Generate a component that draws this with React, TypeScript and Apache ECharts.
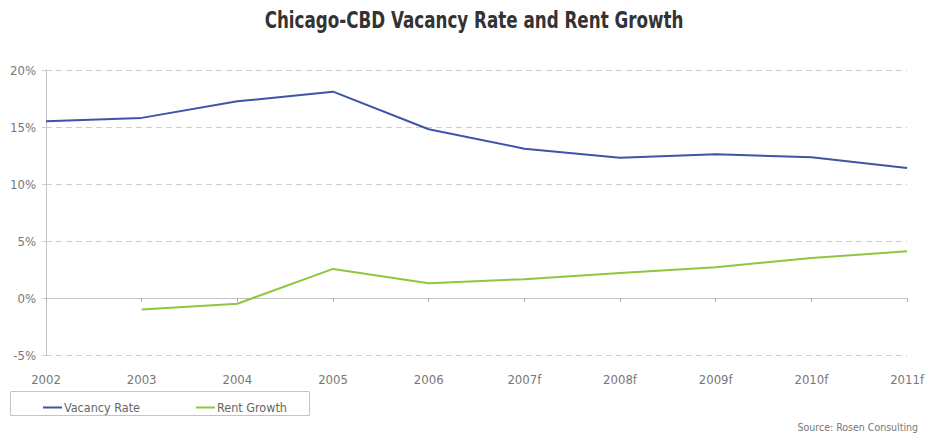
import React, { useEffect, useRef } from "react";
import * as echarts from "echarts";

const categories = ["2002", "2003", "2004", "2005", "2006", "2007f", "2008f", "2009f", "2010f", "2011f"];
const vacancyRate = [15.5, 15.8, 17.25, 18.1, 14.8, 13.1, 12.3, 12.6, 12.35, 11.4];
const rentGrowth = [null, -1.0, -0.5, 2.55, 1.3, 1.65, 2.2, 2.7, 3.5, 4.1];
const yTicks = { min: -5, max: 20, interval: 5 };

const FONT = "'DejaVu Sans Condensed', 'Liberation Sans', sans-serif";

export default function App() {
  const ref = useRef<HTMLDivElement>(null);
  useEffect(() => {
    if (!ref.current) return;
    const chart = echarts.init(ref.current, null, { renderer: "svg" });
    chart.setOption({
      animation: false,
      backgroundColor: "#fff",
      grid: { left: 46, right: 18, top: 70, bottom: 80, containLabel: false },
      legend: [
        {
          data: ["Vacancy Rate"],
          left: 38,
          top: 396,
          icon: "rect",
          itemWidth: 19,
          itemHeight: 2,
          textStyle: { fontFamily: FONT, fontSize: 12.5, color: "#666", padding: [0, 0, 0, -3] },
        },
        {
          data: ["Rent Growth"],
          left: 191,
          top: 396,
          icon: "rect",
          itemWidth: 19,
          itemHeight: 2,
          textStyle: { fontFamily: FONT, fontSize: 12.5, color: "#666", padding: [0, 0, 0, -3] },
        },
      ],
      graphic: [
        {
          type: "text",
          x: 474,
          y: 20,
          scaleX: 0.81,
          style: {
            text: "Chicago-CBD Vacancy Rate and Rent Growth",
            fontFamily: FONT,
            fontWeight: "bold",
            fontSize: 23,
            fill: "#333",
            textAlign: "center",
            textVerticalAlign: "middle",
          },
        },
        {
          type: "rect",
          shape: { x: 10.5, y: 391.5, width: 299, height: 24 },
          style: { fill: "none", stroke: "#c4c4c4", lineWidth: 1 },
        },
        {
          type: "text",
          right: 9,
          top: 421,
          style: { text: "Source: Rosen Consulting", fontFamily: FONT, fontSize: 10.5, fill: "#777" },
        },
      ],
      xAxis: [
        {
          type: "category",
          data: categories,
          boundaryGap: false,
          position: "bottom",
          axisLine: { show: false, onZero: false },
          axisTick: { show: false },
          axisLabel: { fontFamily: FONT, fontSize: 13, color: "#777", margin: 18 },
        },
        {
          type: "category",
          data: categories,
          boundaryGap: false,
          position: "bottom",
          axisLine: { show: true, onZero: true, lineStyle: { color: "#c4c4c4", width: 1 } },
          axisTick: { show: true, length: 4, alignWithLabel: true, lineStyle: { color: "#b0b0b0" } },
          axisLabel: { show: false },
        },
      ],
      yAxis: {
        type: "value",
        min: yTicks.min,
        max: yTicks.max,
        interval: yTicks.interval,
        axisLine: { show: true, lineStyle: { color: "#c4c4c4", width: 1 } },
        axisTick: { show: true, length: 4, lineStyle: { color: "#ccc" } },
        axisLabel: { formatter: "{value}%", fontFamily: FONT, fontSize: 13, color: "#777", margin: 10 },
        splitLine: { show: true, lineStyle: { color: "#cfcfcf", type: [6, 4], width: 1 } },
      },
      series: [
        {
          name: "Vacancy Rate",
          type: "line",
          data: vacancyRate,
          symbol: "none",
          lineStyle: { color: "#3f54a6", width: 2 },
          itemStyle: { color: "#3f54a6" },
        },
        {
          name: "Rent Growth",
          type: "line",
          data: rentGrowth,
          symbol: "none",
          lineStyle: { color: "#8dc63f", width: 2 },
          itemStyle: { color: "#8dc63f" },
        },
      ],
    });
    return () => chart.dispose();
  }, []);
  return <div ref={ref} style={{ width: 927, height: 435, position: "absolute", left: 0, top: 0 }} />;
}
